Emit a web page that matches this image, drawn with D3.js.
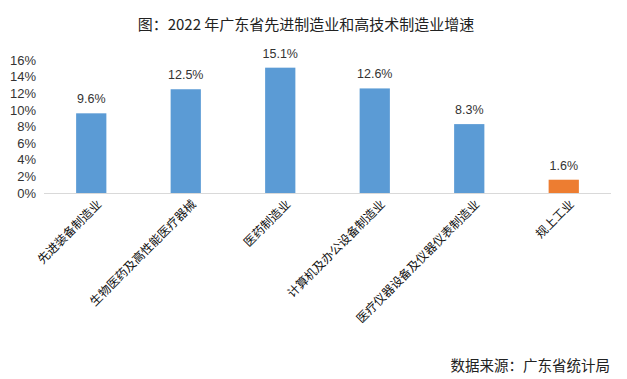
<!DOCTYPE html>
<html><head><meta charset="utf-8">
<script src="https://cdn.jsdelivr.net/npm/d3@7/dist/d3.min.js"></script>
<style>body{margin:0;background:#fff}svg{display:block}text{font-family:"Microsoft YaHei","Noto Sans CJK SC",sans-serif}</style>
</head><body><svg id="c" width="627" height="379"></svg>
<script>
const categories = ["先进装备制造业","生物医药及高性能医疗器械","医药制造业","计算机及办公设备制造业","医疗仪器设备及仪器仪表制造业","规上工业"];
const values = [9.6,12.5,15.1,12.6,8.3,1.6];
const colors = ["#5B9BD5","#5B9BD5","#5B9BD5","#5B9BD5","#5B9BD5","#ED7D31"];
const yTicks = [0,2,4,6,8,10,12,14,16];
const title = "图：2022 年广东省先进制造业和高技术制造业增速";
const source = "数据来源：广东省统计局";

const svg = d3.select("#c");
const x = d3.scaleBand().domain(categories).range([44,611]).paddingInner(0.68).paddingOuter(0.34);
const y = d3.scaleLinear().domain([0,16]).range([193,60.2]);

svg.append("text").attr("x",306).attr("y",30).attr("text-anchor","middle")
  .attr("font-size",15).attr("fill","#222").text(title);

const ya = svg.append("g").attr("transform","translate(38,0)")
  .call(d3.axisLeft(y).tickValues(yTicks).tickFormat(d=>d+"%").tickSize(0).tickPadding(2));
ya.select(".domain").remove();
ya.selectAll("text").attr("font-size",13).attr("fill","#333").style("font-family","'Liberation Sans',Arial,sans-serif");

svg.selectAll("rect.bar").data(values).join("rect").attr("class","bar")
  .attr("x",(d,i)=>x(categories[i])).attr("width",x.bandwidth())
  .attr("y",d=>y(d)).attr("height",d=>y(0)-y(d)).attr("fill",(d,i)=>colors[i]);

svg.selectAll("text.val").data(values).join("text").attr("class","val")
  .attr("x",(d,i)=>x(categories[i])+x.bandwidth()/2).attr("y",d=>y(d)-10)
  .attr("text-anchor","middle").attr("font-size",12.5).attr("fill","#333")
  .style("font-family","'Liberation Sans',Arial,sans-serif").text(d=>d.toFixed(1)+"%");

svg.append("line").attr("x1",44).attr("x2",611).attr("y1",y(0)+0.5).attr("y2",y(0)+0.5)
  .attr("stroke","#d9d9d9").attr("stroke-width",1);

svg.selectAll("text.cat").data(categories).join("text").attr("class","cat")
  .attr("transform",d=>`translate(${x(d)+x.bandwidth()/2+11},${y(0)+12}) rotate(-45)`)
  .attr("text-anchor","end").attr("font-size",12).attr("fill","#111").text(d=>d);

svg.append("text").attr("x",610).attr("y",371).attr("text-anchor","end")
  .attr("font-size",14.5).attr("fill","#222").text(source);
</script></body></html>
